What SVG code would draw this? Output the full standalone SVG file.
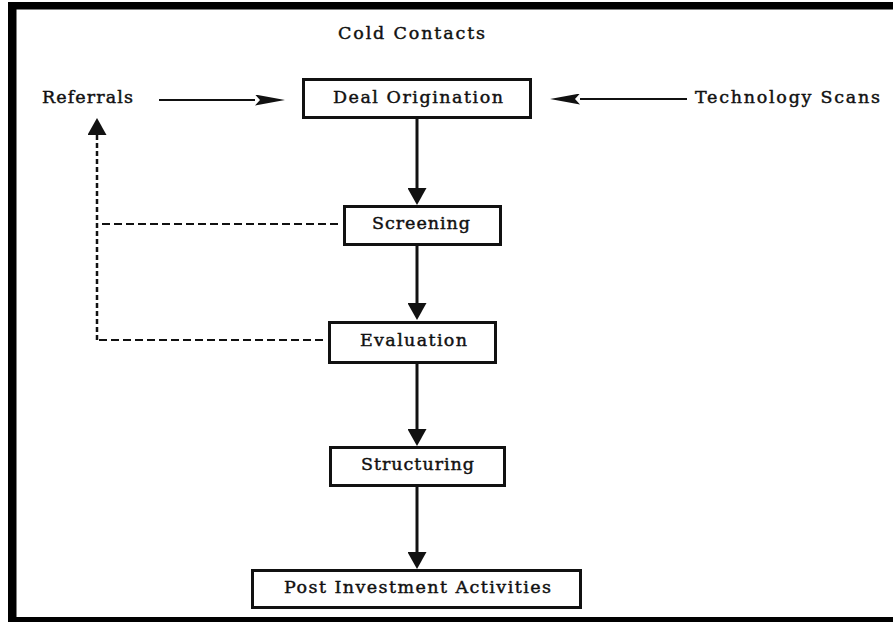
<svg xmlns="http://www.w3.org/2000/svg" width="893" height="622" viewBox="0 0 893 622">
  <style>
    .box { fill: #ffffff; stroke: #111111; stroke-width: 3; }
    .lbl { font-family: "DejaVu Serif", "Liberation Serif", serif; font-size: 17.5px; fill: #111111; stroke: #111111; stroke-width: 0.45; }
    .solid { fill: none; stroke: #111111; stroke-width: 3; }
    .thin { fill: none; stroke: #111111; stroke-width: 2; }
    .dashH { fill: none; stroke: #111111; stroke-width: 2; stroke-dasharray: 8 4; }
    .dashV { fill: none; stroke: #111111; stroke-width: 2.5; stroke-dasharray: 5 3; }
  </style>
  <defs>
    <marker id="headV" viewBox="0 0 17 19" refX="0" refY="9.5" markerWidth="17" markerHeight="19" markerUnits="userSpaceOnUse" orient="auto">
      <path d="M0,0 L17,9.5 L0,19 Z" fill="#111111"/>
    </marker>
    <marker id="headH" viewBox="0 0 30 11" refX="0" refY="5.5" markerWidth="30" markerHeight="11" markerUnits="userSpaceOnUse" orient="auto">
      <path d="M0,0 L30,5.5 L0,11 L5,5.5 Z" fill="#111111"/>
    </marker>
  </defs>
  <rect width="893" height="622" fill="#ffffff"/>
  <g id="frame" fill="#000000">
    <rect x="8" y="2" width="8.5" height="620"/>
    <rect x="8" y="2" width="885" height="7.5"/>
    <rect x="8" y="617" width="885" height="5"/>
  </g>
  <g id="connectors">
    <line class="solid" x1="417" y1="119" x2="417" y2="188" marker-end="url(#headV)"/>
    <line class="solid" x1="417" y1="246" x2="417" y2="303" marker-end="url(#headV)"/>
    <line class="solid" x1="417" y1="363" x2="417" y2="429" marker-end="url(#headV)"/>
    <line class="solid" x1="417" y1="487" x2="417" y2="552" marker-end="url(#headV)"/>
    <line class="thin" x1="159" y1="100" x2="255" y2="100" marker-end="url(#headH)"/>
    <line class="thin" x1="687" y1="99" x2="580" y2="99" marker-end="url(#headH)"/>
    <path class="dashH" d="M323,340 H97"/>
    <path class="dashH" d="M338,224 H97"/>
    <path class="dashV" d="M97,340 V135" marker-end="url(#headV)"/>
  </g>
  <g id="cold-contacts">
    <text class="lbl" x="338" y="39" textLength="147" lengthAdjust="spacing">Cold Contacts</text>
  </g>
  <g id="referrals">
    <text class="lbl" x="42" y="103" textLength="91" lengthAdjust="spacing">Referrals</text>
  </g>
  <g id="technology-scans">
    <text class="lbl" x="695" y="103" textLength="185" lengthAdjust="spacing">Technology Scans</text>
  </g>
  <g id="deal-origination">
    <rect class="box" x="303.5" y="79.5" width="227" height="38"/>
    <text class="lbl" x="333" y="103" textLength="170" lengthAdjust="spacing">Deal Origination</text>
  </g>
  <g id="screening">
    <rect class="box" x="344.5" y="206.5" width="156" height="38"/>
    <text class="lbl" x="372" y="229" textLength="98" lengthAdjust="spacing">Screening</text>
  </g>
  <g id="evaluation">
    <rect class="box" x="329.5" y="322.5" width="166" height="40"/>
    <text class="lbl" x="360" y="346" textLength="107" lengthAdjust="spacing">Evaluation</text>
  </g>
  <g id="structuring">
    <rect class="box" x="330.5" y="447.5" width="174" height="38"/>
    <text class="lbl" x="361" y="470" textLength="113" lengthAdjust="spacing">Structuring</text>
  </g>
  <g id="post-investment">
    <rect class="box" x="252.5" y="570.5" width="328" height="37"/>
    <text class="lbl" x="284" y="593" textLength="267" lengthAdjust="spacing">Post Investment Activities</text>
  </g>
</svg>
